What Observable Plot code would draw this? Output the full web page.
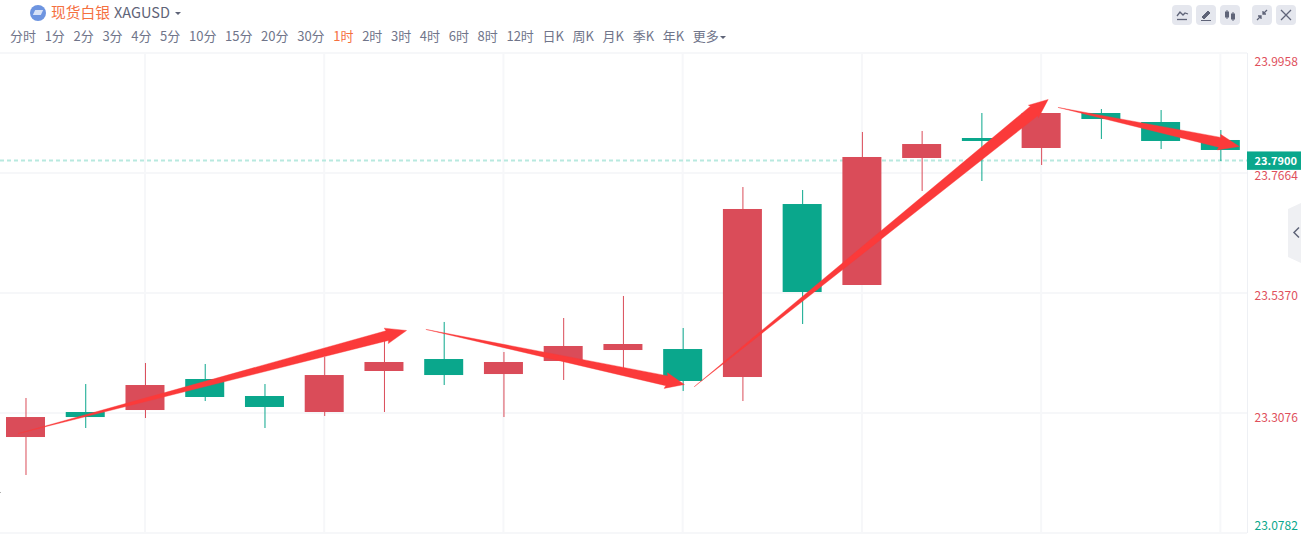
<!DOCTYPE html>
<html><head><meta charset="utf-8">
<script src="https://cdn.jsdelivr.net/npm/d3@7"></script>
<script src="https://cdn.jsdelivr.net/npm/@observablehq/plot@0.6"></script>
<style>
html,body{margin:0;padding:0;background:#fff;width:1301px;height:552px;overflow:hidden;font-family:"Noto Sans CJK SC","Noto Sans",sans-serif}
#head{position:absolute;left:0;top:0;width:1301px;height:52px}
#logo{position:absolute;left:30px;top:5px;width:16px;height:16px;border-radius:50%;background:#6d94e0}
#logo:after{content:"";position:absolute;left:4px;top:5px;width:8px;height:5px;background:#d7e2f7;transform:skewX(-25deg)}
#name{position:absolute;left:51px;top:1px;font-size:14.75px;line-height:22px;color:#f5703f}
#sym{position:absolute;left:114px;top:1px;font-size:14.5px;line-height:22px;color:#5f6478}
.caret{position:absolute;width:0;height:0;border-left:3.5px solid transparent;border-right:3.5px solid transparent;border-top:3.5px solid #5f6478}
#tf{position:absolute;left:10px;top:27px;display:flex;gap:8.65px;font-size:13px;line-height:18px;color:#70758a;white-space:nowrap}
#tf span.on{color:#f5703f}
.btn{position:absolute;top:5px;width:20px;height:20px;border-radius:4px;background:#e5e7ee}
.btn svg{position:absolute;left:0;top:0}
#chart{position:absolute;left:0;top:52px}
#hex{position:absolute;left:1288px;top:203px;width:13px;height:60px;background:#eff0f3;clip-path:polygon(0 10%,100% 0,100% 100%,0 90%)}
#hex svg{position:absolute;left:0;top:0}
</style></head><body>
<div id="chart"></div>
<div id="head">
<div id="logo"></div><div id="name">现货白银</div><div id="sym">XAGUSD</div>
<div class="caret" style="left:175px;top:12px"></div>
<div id="tf"></div>
<div class="caret" style="left:720px;top:36px"></div>
<div class="btn" style="left:1172px"><svg width="20" height="20" fill="none" stroke="#5f6478" stroke-width="1.3"><path d="M5 11l3-4 3 3 2-2 3 1"/><path d="M5 14.5h10"/></svg></div>
<div class="btn" style="left:1196px"><svg width="20" height="20" fill="#5f6478" stroke="#5f6478" stroke-width="1"><path d="M6 12l6-6 2 2-6 6z"/><path d="M5 15.5h10" fill="none"/></svg></div>
<div class="btn" style="left:1220px"><svg width="20" height="20" fill="#5f6478" stroke="#5f6478" stroke-width="1"><path d="M7 5v9M13 7v9" fill="none"/><rect x="5.5" y="7" width="3" height="5"/><rect x="11.5" y="9" width="3" height="5"/></svg></div>
<div class="btn" style="left:1252px"><svg width="20" height="20" fill="none" stroke="#5f6478" stroke-width="1.3"><path d="M15 5l-3.5 3.5M11 6v3h3M5 15l3.5-3.5M9 14v-3H6"/></svg></div>
<div class="btn" style="left:1276px"><svg width="20" height="20" fill="none" stroke="#5f6478" stroke-width="1.3"><path d="M5 5l10 10M15 5L5 15"/></svg></div>
</div>
<div id="hex"><svg width="13" height="60" fill="none" stroke="#5f6478" stroke-width="1.5"><path d="M11 24.5l-5 5 5 5"/></svg></div>
<script>
const timeframes = ["分时","1分","2分","3分","4分","5分","10分","15分","20分","30分","1时","2时","3时","4时","6时","8时","12时","日K","周K","月K","季K","年K","更多"];
const activeFrame = "1时";

const candleIndex = d3.range(21);
const wickHigh = [23.3363,23.3630,23.4032,23.4013,23.3630,23.4146,23.4471,23.4816,23.4242,23.4892,23.5313,23.4701,23.7396,23.7339,23.8448,23.8467,23.8811,23.8811,23.8887,23.8868,23.8486];
const wickLow  = [23.1891,23.2789,23.2980,23.3305,23.2789,23.3019,23.3095,23.3611,23.2999,23.3707,23.3898,23.3496,23.3305,23.4777,23.5523,23.7320,23.7511,23.7817,23.8314,23.8123,23.7893];
const bodyTop  = [23.2999,23.3095,23.3611,23.3726,23.3401,23.3802,23.4051,23.4108,23.4051,23.4357,23.4395,23.4299,23.6976,23.7071,23.7970,23.8218,23.8333,23.8811,23.8811,23.8639,23.8295];
const bodyLow  = [23.2617,23.2999,23.3133,23.3382,23.3191,23.3095,23.3879,23.3802,23.3821,23.4070,23.4280,23.3688,23.3764,23.5389,23.5523,23.7951,23.8276,23.8142,23.8696,23.8276,23.8104];
const direction = ["up","down","up","down","down","up","up","down","up","up","up","down","up","down","up","up","down","up","down","down","down"];

const priceTicks = [23.9958,23.7664,23.5370,23.3076,23.0782];
const tickDirection = ["up","up","up","up","down"];
const gridIndex = [2,5,8,11,14,17,20];
const lastPrice = 23.79;

// arrows: from / to in [candle index, price]
const arrowFrom = [[-0.125,23.2694],[6.70,23.4682],[11.19,23.3592],[17.28,23.8926]];
const arrowTo   = [[6.37,23.4663],[11.02,23.3630],[17.11,23.9079],[20.31,23.8180]];
const arrowHead = [20,18,18,20];   // head length, px
const arrowWide = [8,8,8,8];       // half width of barbs, px
const arrowNeck = [5,5,6,5];       // half width of shaft at head, px

const idxPx = 59.75, pricePx = 120/0.2294;
function arrowPoly(k){
  const [x0,y0]=arrowFrom[k],[x1,y1]=arrowTo[k];
  const dx=(x1-x0)*idxPx, dy=(y0-y1)*pricePx, L=Math.hypot(dx,dy);
  const ux=dx/L, uy=dy/L, nx=-uy, ny=ux;
  const at=(along,side)=>({arrow:k,
    x:x0+(ux*along+nx*side)/idxPx,
    y:y0-(uy*along+ny*side)/pricePx});
  const h=L-arrowHead[k];
  return [at(0,0),at(h,arrowNeck[k]),at(h-1,arrowWide[k]),at(L,0),at(h-1,-arrowWide[k]),at(h,-arrowNeck[k]),at(0,0)];
}

const candles = candleIndex.map(i=>({i,hi:wickHigh[i],lo:wickLow[i],top:bodyTop[i],low:bodyLow[i],dir:direction[i]}));
const RED="#da4c59", GREEN="#0aa78c", GRID="#f6f7f9";
const half=0.3264;
const colour=d=>d.dir==="up"?RED:GREEN;
const xMax=20.446, xOuter=21.35;
const tagHalf=9.2/pricePx;

const tickDy=[9,3,3,5,-7];

const tf=document.getElementById("tf");
timeframes.forEach(t=>{const s=document.createElement("span");s.textContent=t;if(t===activeFrame)s.className="on";tf.appendChild(s);});

const chart = Plot.plot({
  width:1301,height:500,
  marginTop:1,marginBottom:19,marginLeft:0,marginRight:54,
  style:{background:"transparent",fontFamily:'"Noto Sans CJK SC","Noto Sans",sans-serif',overflow:"visible"},
  x:{domain:[-0.4268,xMax],axis:null},
  y:{domain:[23.0782,23.9958],axis:null},
  marks:[
    Plot.ruleY(priceTicks,{stroke:GRID,strokeWidth:2,dy:-0.5}),
    Plot.ruleX(gridIndex,{stroke:GRID,strokeWidth:2,dx:-0.5}),
    Plot.ruleX([xMax],{stroke:"#eef0f4",strokeWidth:1}),
    Plot.ruleY([23.1566],{x1:-0.4268,x2:-0.4135,stroke:"#999",strokeWidth:1}),
    Plot.ruleY([lastPrice],{stroke:"#b8e9df",strokeWidth:2,strokeDasharray:"4,3",dy:-0.65}),
    Plot.ruleX(candles,{x:"i",y1:"lo",y2:"hi",stroke:colour,strokeWidth:1}),
    Plot.rect(candles,{x1:d=>d.i-half,x2:d=>d.i+half,y1:"low",y2:"top",fill:colour}),
    ...arrowFrom.map((_,k)=>Plot.line(arrowPoly(k),{x:"x",y:"y",fill:"#fb3a3a",stroke:"#fb3a3a",strokeWidth:0.4,curve:"linear"})),
    ...priceTicks.map((t,k)=>Plot.text([t],{
      y:d=>d,frameAnchor:"right",textAnchor:"start",dx:7,dy:tickDy[k],
      text:d=>d.toFixed(4),fontSize:12,fill:tickDirection[k]==="up"?"#e0505c":"#0aa78c"})),
    Plot.rect([lastPrice],{x1:()=>xMax,x2:()=>xOuter,y1:d=>d-tagHalf,y2:d=>d+tagHalf,fill:GREEN}),
    Plot.text([lastPrice],{y:d=>d,frameAnchor:"right",textAnchor:"start",dx:7,text:d=>d.toFixed(4),fontSize:11,fontWeight:"bold",fill:"#fff"})
  ]
});
document.getElementById("chart").appendChild(chart);
</script>
</body></html>
